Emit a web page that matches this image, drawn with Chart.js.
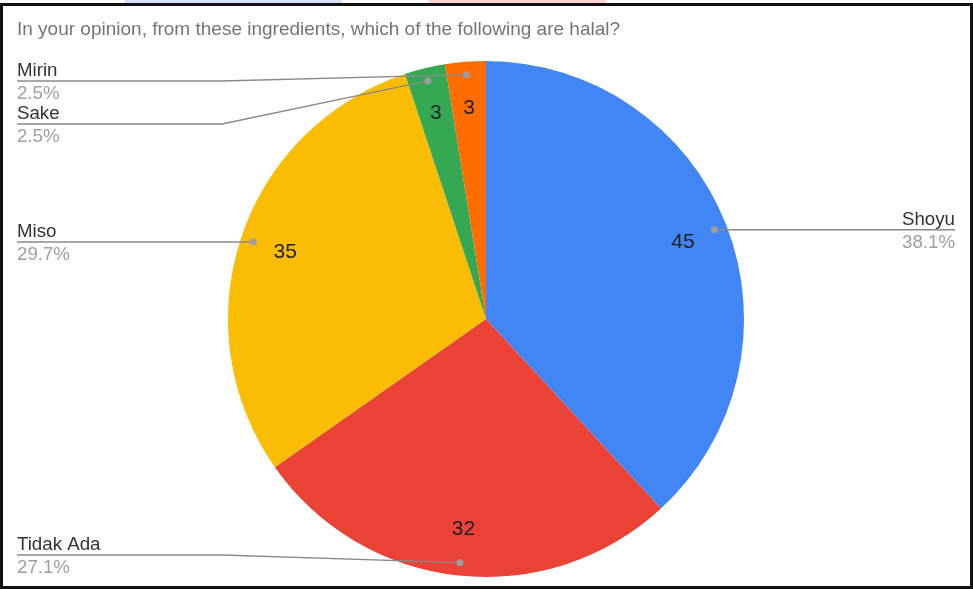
<!DOCTYPE html>
<html>
<head>
<meta charset="utf-8">
<script src="https://cdn.jsdelivr.net/npm/chart.js@4/dist/chart.umd.min.js"></script>
<style>
html,body{margin:0;padding:0;background:#fff;width:973px;height:589px;overflow:hidden}
#wrap{position:absolute;left:0;top:0;width:973px;height:589px}
canvas{position:absolute;left:0;top:0}
.frame{position:absolute;left:0;top:3px;width:967px;height:580px;border:3px solid #111;pointer-events:none}
.strip{position:absolute;top:0;height:3px}
</style>
</head>
<body>
<div id="wrap">
  <div class="strip" style="left:125px;width:217px;background:#d3e0f7"></div>
  <div class="strip" style="left:428px;width:178px;background:#fbd5d3"></div>
  <canvas id="c" width="973" height="589"></canvas>
  <div class="frame"></div>
</div>
<script>
const chartTitle = 'In your opinion, from these ingredients, which of the following are halal?';
const categories = ['Shoyu', 'Tidak Ada', 'Miso', 'Sake', 'Mirin'];
const responses = [45, 32, 35, 3, 3];
const sliceColors = ['#4285F4', '#EA4335', '#FBBC04', '#34A853', '#FF6D01'];

const FONT = '"Liberation Sans", Arial, sans-serif';

const labelPlugin = {
  id: 'sheetLabels',
  afterDraw(chart) {
    const ctx = chart.ctx;
    const meta = chart.getDatasetMeta(0);
    const total = responses.reduce((a, b) => a + b, 0);
    ctx.save();

    // title
    ctx.font = '19px ' + FONT;
    ctx.fillStyle = '#757575';
    ctx.textAlign = 'left';
    ctx.textBaseline = 'alphabetic';
    ctx.fillText(chartTitle, 17, 35);

    const items = meta.data.map((arc, i) => {
      const p = arc.getProps(['x', 'y', 'startAngle', 'endAngle', 'outerRadius'], true);
      const mid = (p.startAngle + p.endAngle) / 2;
      const cos = Math.cos(mid), sin = Math.sin(mid);
      return {
        i, cx: p.x, cy: p.y, r: p.outerRadius, cos, sin,
        dotX: p.x + cos * p.outerRadius * 0.95,
        dotY: p.y + sin * p.outerRadius * 0.95,
        side: cos >= 0 ? 'right' : 'left'
      };
    });

    // value labels inside slices
    ctx.font = '21px ' + FONT;
    ctx.fillStyle = '#212121';
    ctx.textAlign = 'center';
    ctx.textBaseline = 'middle';
    items.forEach(it => {
      ctx.fillText(String(responses[it.i]), it.cx + it.cos * it.r * 0.82, it.cy + it.sin * it.r * 0.82);
    });

    // layout of outside labels
    const minY = 81, maxY = 555, gap = 43;
    ['left', 'right'].forEach(side => {
      const arr = items.filter(it => it.side === side).sort((a, b) => a.dotY - b.dotY);
      let prev = -Infinity;
      arr.forEach(it => { it.lineY = Math.max(it.dotY, prev + gap, minY); prev = it.lineY; });
      let next = Infinity;
      for (let k = arr.length - 1; k >= 0; k--) {
        arr[k].lineY = Math.min(arr[k].lineY, next - gap, maxY);
        next = arr[k].lineY;
      }
    });

    const leftX = 17, rightX = 955, elbow = 222;
    items.forEach(it => {
      ctx.strokeStyle = '#8a8a8a';
      ctx.lineWidth = 1.3;
      ctx.beginPath();
      if (it.side === 'left') {
        ctx.moveTo(leftX, it.lineY);
        ctx.lineTo(Math.min(elbow, it.dotX), it.lineY);
      } else {
        ctx.moveTo(rightX, it.lineY);
        ctx.lineTo(Math.max(chart.width - elbow, it.dotX), it.lineY);
      }
      ctx.lineTo(it.dotX, it.dotY);
      ctx.stroke();

      ctx.fillStyle = '#9e9e9e';
      ctx.beginPath();
      ctx.arc(it.dotX, it.dotY, 3.5, 0, Math.PI * 2);
      ctx.fill();

      const tx = it.side === 'left' ? leftX : rightX;
      ctx.textAlign = it.side === 'left' ? 'left' : 'right';
      ctx.textBaseline = 'alphabetic';
      ctx.font = '18.7px ' + FONT;
      ctx.fillStyle = '#333333';
      ctx.fillText(categories[it.i], tx, it.lineY - 5);
      ctx.fillStyle = '#a0a0a0';
      ctx.fillText((responses[it.i] / total * 100).toFixed(1) + '%', tx, it.lineY + 18);
    });
    ctx.restore();
  }
};

new Chart(document.getElementById('c'), {
  type: 'pie',
  data: {
    labels: categories,
    datasets: [{
      data: responses,
      backgroundColor: sliceColors,
      borderWidth: 0,
      hoverOffset: 0
    }]
  },
  options: {
    responsive: false,
    animation: false,
    devicePixelRatio: 1,
    layout: { padding: { top: 61, bottom: 12, left: 0, right: 1 } },
    plugins: {
      legend: { display: false },
      tooltip: { enabled: false },
      title: { display: false }
    }
  },
  plugins: [labelPlugin]
});
</script>
</body>
</html>
